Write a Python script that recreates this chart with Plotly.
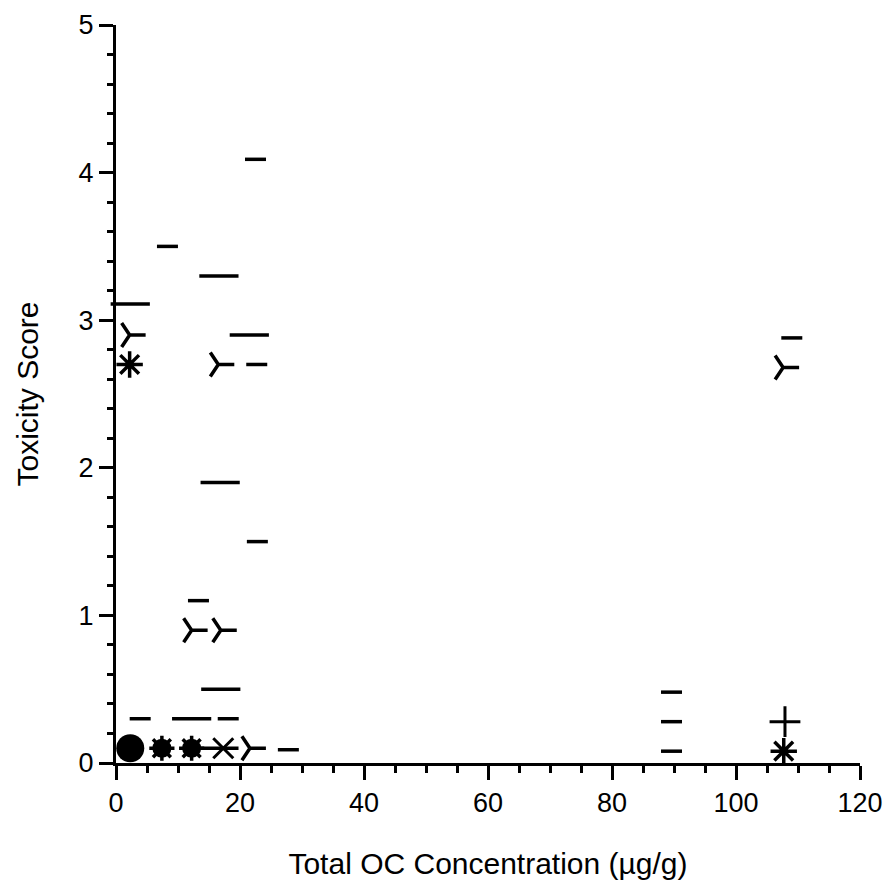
import plotly.graph_objects as go

# ---- data ----
short_dash_x = [3.9, 13.3, 18.1, 27.8, 22.5, 8.3, 22.7, 22.8, 109.0, 89.6, 89.6, 89.6]
short_dash_y = [0.30, 1.10, 0.30, 0.09, 4.09, 3.50, 2.70, 1.50, 2.88, 0.48, 0.28, 0.08]

long_dash_x = [16.9, 12.2, 16.6, 2.3, 21.5, 16.8, 16.6]
long_dash_y = [0.50, 0.30, 3.30, 3.11, 2.90, 1.90, 0.10]

tri_x = [12.2, 16.9, 2.2, 16.5, 107.6, 21.6]
tri_y = [0.90, 0.90, 2.90, 2.70, 2.68, 0.10]

star_x = [2.2, 107.7]
star_y = [2.70, 0.08]

plus_x = [107.9]
plus_y = [0.28]

cross_x = [17.3]
cross_y = [0.10]

circle_x = [2.3]
circle_y = [0.10]

gear_x = [7.4, 12.2]
gear_y = [0.10, 0.10]

x_ticks = [0, 20, 40, 60, 80, 100, 120]
y_ticks = [0, 1, 2, 3, 4, 5]

BLACK = "black"
FONT = "Liberation Sans, Arial, sans-serif"

fig = go.Figure()

def add(xs, ys, symbol, size, lw=3.5):
    fig.add_trace(go.Scatter(
        x=xs, y=ys, mode="markers", cliponaxis=False, showlegend=False,
        marker=dict(symbol=symbol, size=size, color=BLACK,
                    line=dict(color=BLACK, width=lw)),
    ))

add(short_dash_x, short_dash_y, "line-ew", 15, 3.5)
add(long_dash_x, long_dash_y, "line-ew", 28, 3.5)
add(tri_x, tri_y, "y-right", 20, 3.5)
add(star_x, star_y, "asterisk", 22, 3.5)
add(plus_x, plus_y, "cross-thin", 22, 3)
add(cross_x, cross_y, "x-thin", 20, 3)
add(circle_x, circle_y, "circle", 28, 0)
add(gear_x, gear_y, "circle", 19, 0)
add(gear_x, gear_y, "asterisk", 21, 3.5)

fig.update_layout(
    width=888, height=888,
    margin=dict(l=116, r=28, t=25, b=124.5),
    plot_bgcolor="white", paper_bgcolor="white",
    font=dict(family=FONT, color=BLACK),
)

fig.update_xaxes(
    range=[0, 120], tickvals=x_ticks, ticktext=[str(v) for v in x_ticks],
    showgrid=False, zeroline=False, showline=True, linewidth=3, linecolor=BLACK,
    ticks="outside", ticklen=14, tickwidth=3, tickcolor=BLACK,
    tickfont=dict(size=27, family=FONT, color=BLACK),
    minor=dict(dtick=5, ticks="outside", ticklen=7, tickwidth=2.5, tickcolor=BLACK),
    title=dict(text="Total OC Concentration (µg/g)", font=dict(size=30, family=FONT, color=BLACK), standoff=36),
    automargin=False,
)
fig.update_yaxes(
    range=[0, 5], tickvals=y_ticks, ticktext=[str(v) for v in y_ticks],
    showgrid=False, zeroline=False, showline=True, linewidth=3, linecolor=BLACK,
    ticks="outside", ticklen=14, tickwidth=3, tickcolor=BLACK,
    tickfont=dict(size=27, family=FONT, color=BLACK),
    minor=dict(dtick=0.2, ticks="outside", ticklen=6, tickwidth=2.5, tickcolor=BLACK),
    title=dict(text="Toxicity Score", font=dict(size=30, family=FONT, color=BLACK), standoff=32),
    automargin=False,
)

fig.write_html("out.html")
